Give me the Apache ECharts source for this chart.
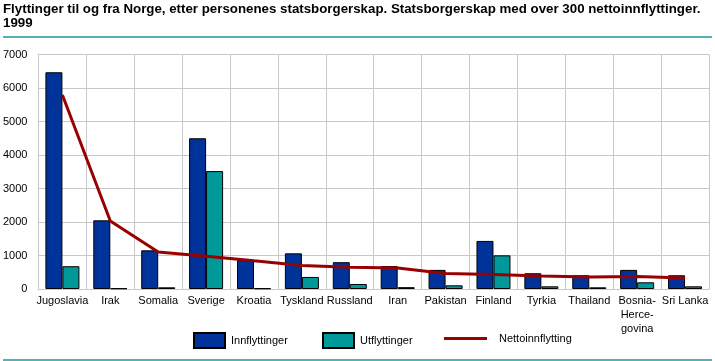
<!DOCTYPE html>
<html>
<head>
<meta charset="utf-8">
<script src="https://cdn.jsdelivr.net/npm/echarts@6/dist/echarts.min.js"></script>
<style>
html,body{margin:0;padding:0;background:#fff;}
#c{width:715px;height:361px;}
</style>
</head>
<body>
<div id="c"></div>
<script>
const categories = ['Jugoslavia','Irak','Somalia','Sverige','Kroatia','Tyskland','Russland','Iran','Pakistan','Finland','Tyrkia','Thailand','Bosnia-\nHerce-\ngovina','Sri Lanka'];
const innflyttinger = [6470, 2050, 1155, 4500, 860, 1065, 800, 685, 570, 1435, 470, 410, 570, 410];
const utflyttinger  = [680, 20, 50, 3520, 20, 360, 150, 55, 110, 1005, 80, 50, 200, 80];
const nettoinnflytting = [5790, 2030, 1105, 980, 840, 705, 650, 630, 460, 430, 390, 360, 370, 330];
const yTicks = [0, 1000, 2000, 3000, 4000, 5000, 6000, 7000];

const chart = echarts.init(document.getElementById('c'), null, {renderer:'canvas'});
const font = 'Liberation Sans';
chart.setOption({
  animation: false,
  backgroundColor: '#fff',
  title: {
    text: 'Flyttinger til og fra Norge, etter personenes statsborgerskap. Statsborgerskap med over 300 nettoinnflyttinger.\n1999',
    left: 3, top: 2, padding: 0,
    textStyle: {fontFamily: font, fontSize: 13.3, fontWeight: 'bold', color: '#000', lineHeight: 14}
  },
  graphic: [
    {type:'line', shape:{x1:3, y1:37, x2:712, y2:37}, style:{stroke:'#1a9a9a', lineWidth:1.5}},
    {type:'line', shape:{x1:3, y1:360, x2:712, y2:360}, style:{stroke:'#1a9a9a', lineWidth:1.5}}
  ],
  legend: [
    {left: 193, top: 332, padding: 0, itemWidth: 31, itemHeight: 15, itemGap: 0,
     data: [{name:'Innflyttinger', icon:'rect'}],
     textStyle:{fontFamily:font, fontSize:11, color:'#000', padding:[0,0,0,1]}},
    {left: 322, top: 332, padding: 0, itemWidth: 31, itemHeight: 15, itemGap: 0,
     data: [{name:'Utflyttinger', icon:'rect'}],
     textStyle:{fontFamily:font, fontSize:11, color:'#000', padding:[0,0,0,1]}},
    {left: 444, top: 333, padding: 0, itemWidth: 43, itemHeight: 15, itemGap: 0,
     data: [{name:'Nettoinnflytting', icon:'path://M0,6 L43,6 L43,9 L0,9 Z'}],
     textStyle:{fontFamily:font, fontSize:11, color:'#000', padding:[0,0,0,7]}}
  ],
  grid: {left: 37, right: 6, top: 54.5, bottom: 72},
  xAxis: {
    type: 'category', data: categories, boundaryGap: true,
    axisLine: {show: true, lineStyle: {color: '#c8c8c8'}},
    axisTick: {show: false},
    splitLine: {show: true, lineStyle: {color: '#c8c8c8', width: 1}},
    axisLabel: {fontFamily: font, fontSize: 11, color: '#000', margin: 5, lineHeight: 14, interval: 0}
  },
  yAxis: {
    type: 'value', min: 0, max: 7000, interval: 1000,
    axisLine: {show: true, lineStyle: {color: '#c8c8c8'}},
    axisTick: {show: false},
    splitLine: {show: true, lineStyle: {color: '#c8c8c8', width: 1}},
    axisLabel: {fontFamily: font, fontSize: 11, color: '#000', margin: 11,
      formatter: v => yTicks.includes(v) ? String(v) : ''}
  },
  series: [
    {name: 'Innflyttinger', type: 'bar', data: innflyttinger, barGap: '0%', barCategoryGap: '29%',
     itemStyle: {color: '#003399', borderColor: '#000', borderWidth: 1}},
    {name: 'Utflyttinger', type: 'bar', data: utflyttinger, barGap: '0%', barCategoryGap: '29%',
     itemStyle: {color: '#009999', borderColor: '#000', borderWidth: 1}},
    {name: 'Nettoinnflytting', type: 'line', data: nettoinnflytting, symbol: 'none', z: 5,
     lineStyle: {color: '#990000', width: 3}, itemStyle: {color: '#990000'}}
  ]
});
</script>
</body>
</html>
